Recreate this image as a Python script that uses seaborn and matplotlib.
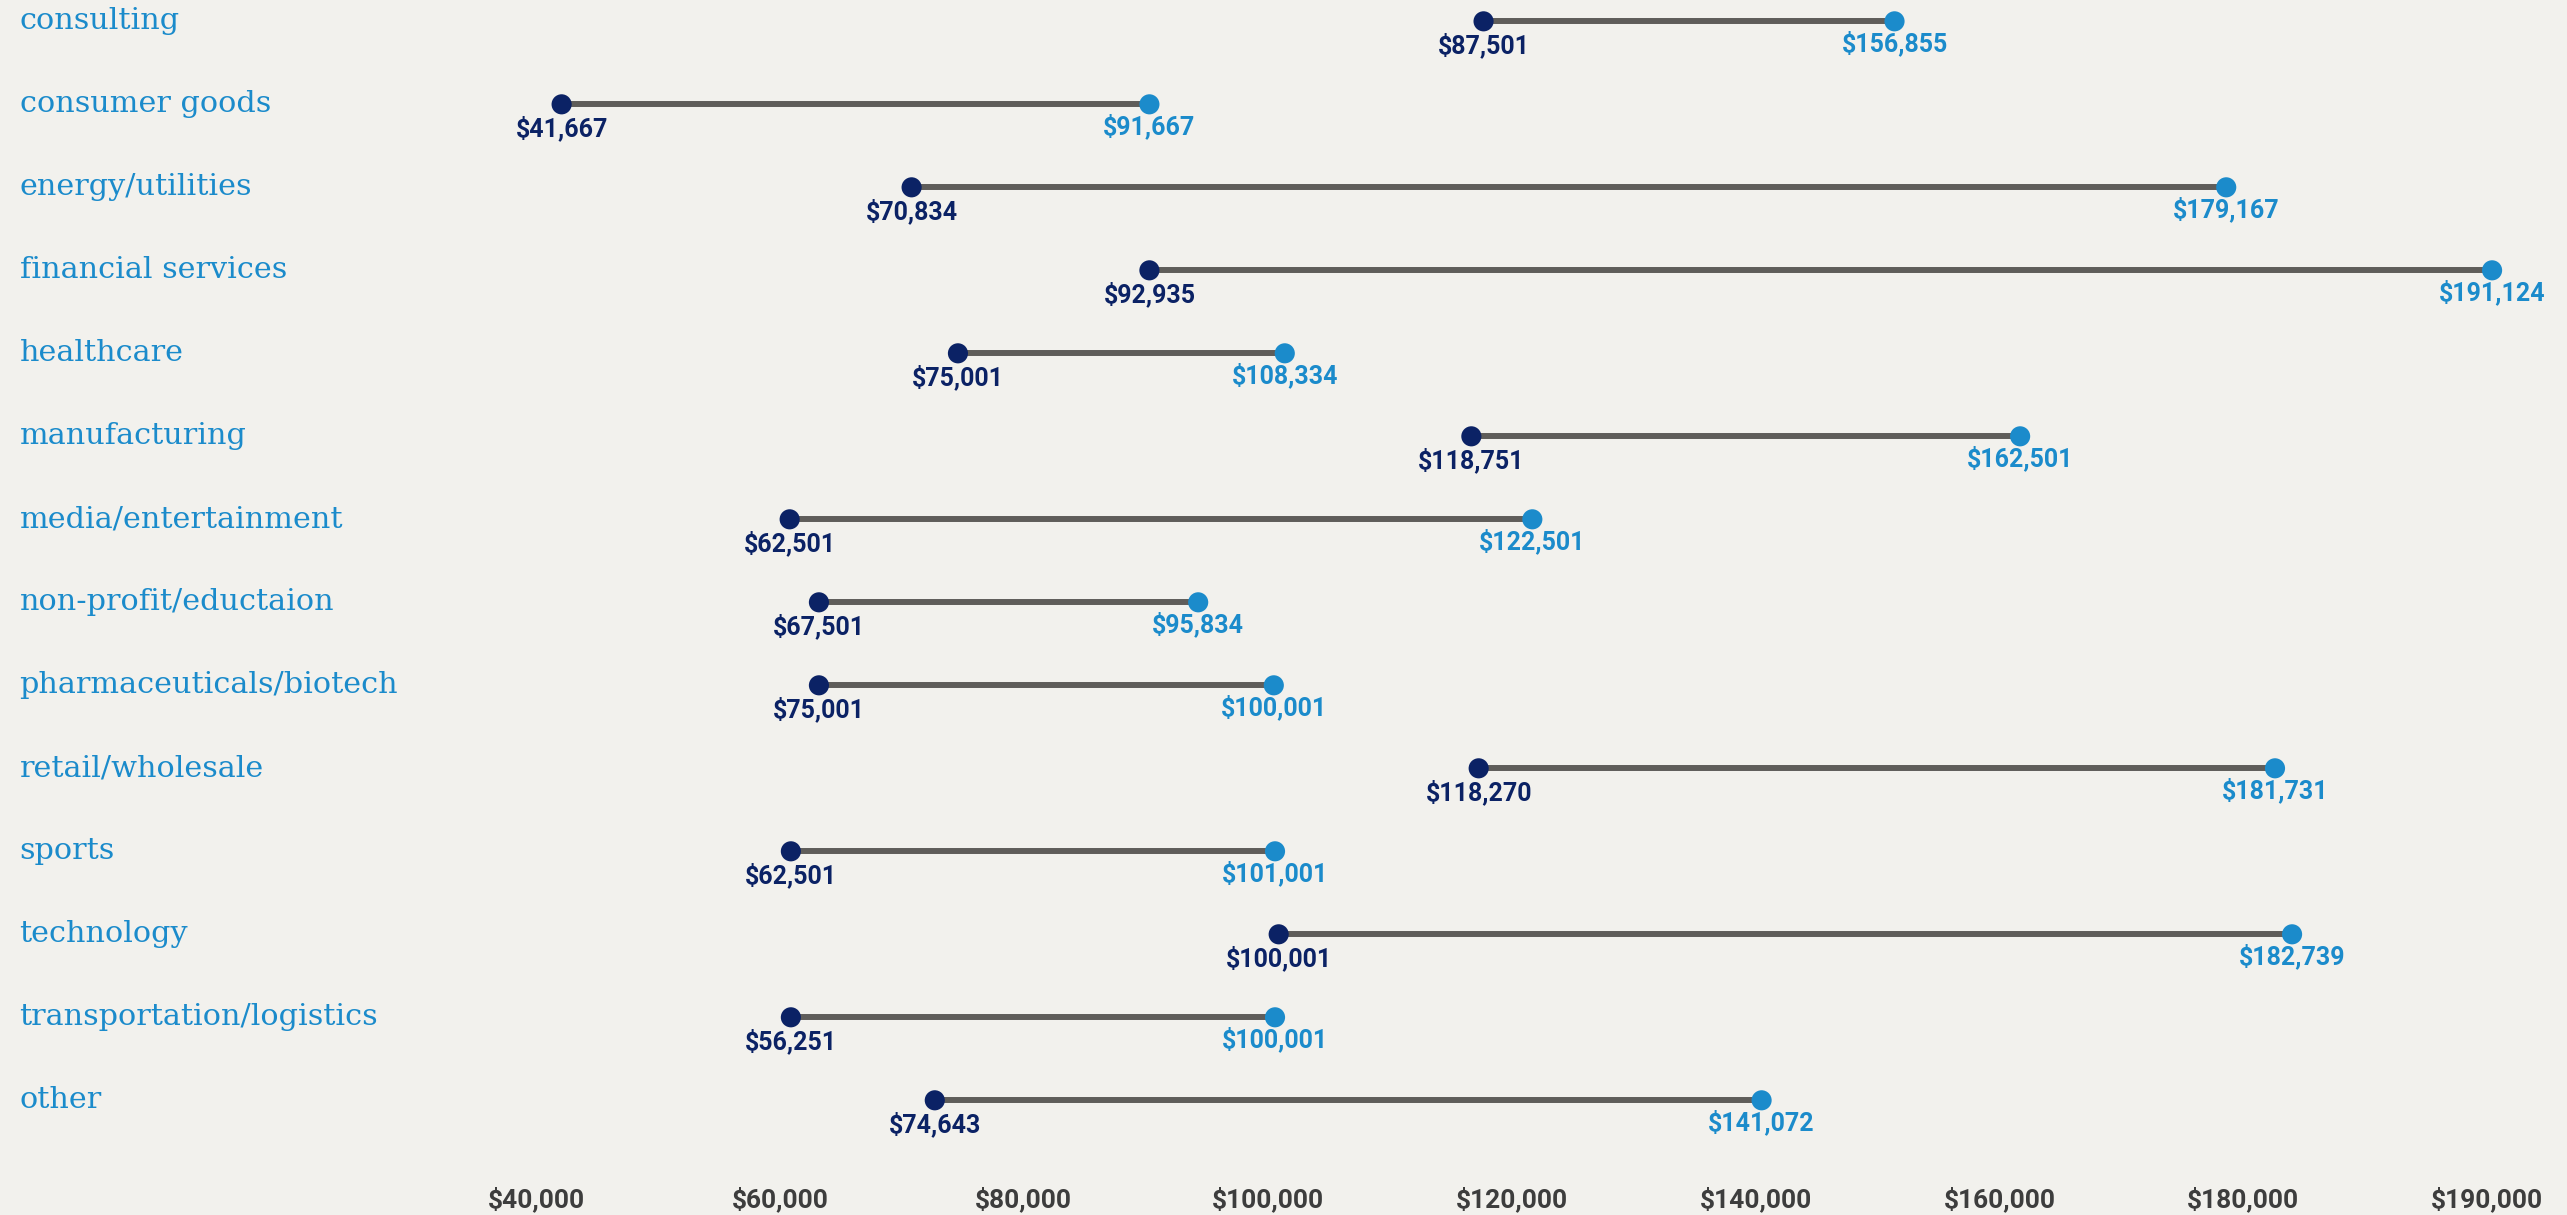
import pandas as pd
import matplotlib.pyplot as plt
import seaborn as sns

# Industries, top to bottom
industries = ["consulting", "consumer goods", "energy/utilities", "financial services",
              "healthcare", "manufacturing", "media/entertainment", "non-profit/eductaion",
              "pharmaceuticals/biotech", "retail/wholesale", "sports", "technology",
              "transportation/logistics", "other"]

# Salary labels printed under the dots
low_label = [87501, 41667, 70834, 92935, 75001, 118751, 62501, 67501, 75001, 118270,
             62501, 100001, 56251, 74643]
high_label = [156855, 91667, 179167, 191124, 108334, 162501, 122501, 95834, 100001, 181731,
              101001, 182739, 100001, 141072]

# Where the dots sit on the axis (read off the picture, not always equal to the label)
low_pos = [117700, 42100, 70800, 90300, 74600, 116700, 60800, 63200, 63200, 117300,
           60900, 100900, 60900, 72700]
high_pos = [151400, 90300, 178600, 200400, 101400, 161700, 121700, 94300, 100500, 182600,
            100600, 184000, 100600, 140500]

tick_values = [40000, 60000, 80000, 100000, 120000, 140000, 160000, 180000, 200000]
tick_labels = ["$40,000", "$60,000", "$80,000", "$100,000", "$120,000", "$140,000",
               "$160,000", "$180,000", "$190,000"]

bg = "#f2f1ed"
dark = "#0b2265"
light = "#1b8bcb"
line_col = "#5f5d5a"
sans = ["Roboto", "DejaVu Sans"]

rows = list(range(len(industries)))
df = pd.DataFrame({"industry": industries, "row": rows,
                   "low": low_pos, "high": high_pos,
                   "low_label": low_label, "high_label": high_label})
long_df = pd.concat([
    pd.DataFrame({"row": rows, "pos": low_pos, "end": "low"}),
    pd.DataFrame({"row": rows, "pos": high_pos, "end": "high"}),
])

sns.set_style("white")
fig = plt.figure(figsize=(25.67, 12.15), dpi=100, facecolor=bg)
ax = fig.add_axes([0, 40 / 1215, 1, 1175 / 1215])
ax.set_facecolor(bg)

# connecting bars
ax.hlines(df["row"], df["low"], df["high"], color=line_col, linewidth=4.3, zorder=1)

# dots
sns.scatterplot(data=long_df, x="pos", y="row", hue="end",
                palette={"low": dark, "high": light}, s=210, linewidth=0,
                legend=False, zorder=2, ax=ax)

# value labels under each dot
for _, r in df.iterrows():
    ax.annotate(f"${r['low_label']:,}", (r["low"], r["row"]), xytext=(0, -17.5),
                textcoords="offset points", ha="center", va="center",
                fontsize=18, fontweight="bold", family=sans, color=dark)
    ax.annotate(f"${r['high_label']:,}", (r["high"], r["row"]), xytext=(0, -16),
                textcoords="offset points", ha="center", va="center",
                fontsize=18, fontweight="bold", family=sans, color=light)

# industry names on the left
for _, r in df.iterrows():
    ax.text(0.0076, r["row"], r["industry"], transform=ax.get_yaxis_transform(),
            ha="left", va="center", fontsize=21.8, family="DejaVu Serif", color=light)

px_per_k = 12.195
x0 = 40000 - 536 / px_per_k * 1000
x1 = x0 + 2567 / px_per_k * 1000
ax.set_xlim(x0, x1)
ax.set_ylim(13.90, -0.257)

ax.set_xticks(tick_values)
ax.set_xticklabels(tick_labels, fontsize=19, fontweight="bold", family=sans, color="#3d3d3d")
ax.tick_params(axis="x", length=0, pad=8)
ax.set_yticks([])
ax.set_xlabel("")
ax.set_ylabel("")
sns.despine(ax=ax, left=True, bottom=True)

fig.savefig("out.png", dpi=100, facecolor=bg)
